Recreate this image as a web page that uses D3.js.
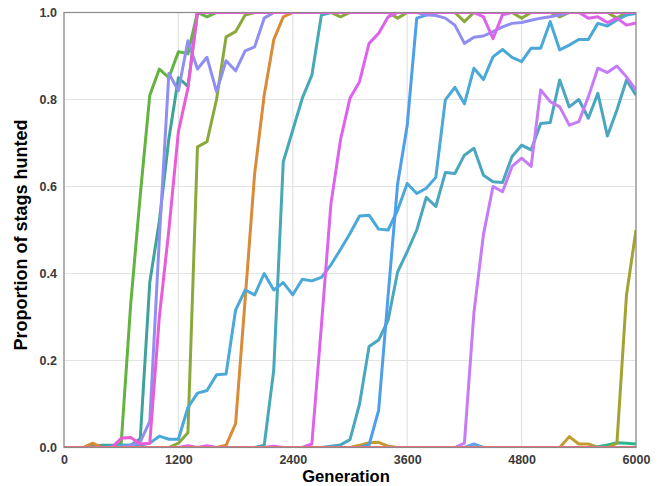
<!DOCTYPE html>
<html><head><meta charset="utf-8">
<script src="https://cdn.jsdelivr.net/npm/d3@7"></script>
<style>body{margin:0;background:#fff}</style>
</head><body><svg id="c" width="660" height="486"></svg>
<script>
const generations = d3.range(0, 6001, 100);
const xTicks = [0, 1200, 2400, 3600, 4800, 6000];
const yTicks = [0, 0.2, 0.4, 0.6, 0.8, 1.0];

const green = [0,0,0,0,0,0,0.01,0.33,0.58,0.81,
  0.87,0.85,0.91,0.905,1,0.99,1,1,1,1,
  1,1,1,1,1,1,1,1,1,1, 1,1,1,1,1,1,1,1,1,1,
  1,1,1,1,1,1,1,1,1,1, 1,1,1,1,1,1,1,1,1,1, 1];
const tealGreen = [0,0,0,0.003,0.005,0.005,0.005,0.005,0.02,0.38,
  0.52,0.71,0.85,0.83,1,1,1,1,1,1,
  1,1,1,1,1,1,1,1,1,1, 1,1,1,1,1,1,1,1,1,1,
  1,1,1,1,1,1,1,1,1,1, 1,1,1,1,1,1,1,1,1,1, 1];
const lavender = [0,0,0,0,0,0,0,0.005,0.013,0.06,
  0.48,0.86,0.82,0.935,0.87,0.897,0.818,0.889,0.866,0.912,
  0.921,0.987,1,1,1,1,1,1,1,1,
  1,1,1,1,1,1,1,1,0.995,0.993,
  0.987,0.971,0.929,0.943,0.946,0.956,0.967,0.975,0.977,0.982,
  0.987,0.99,0.995,1,1,1,1,1,1,1, 1];
const magenta = [0,0,0,0,0,0,0.021,0.023,0.008,0.01,
  0.3,0.5,0.726,0.826,1,1,1,1,1,1,
  1,1,1,1,1,1,1,1,1,1, 1,1,1,1,1,1,1,1,1,1,
  1,1,1,1,1,1,1,1,1,1, 1,1,1,1,1,1,1,1,1,1, 1];
const oliveGreen = [0,0,0,0,0,0,0,0,0,0,
  0,0,0.01,0.034,0.691,0.703,0.8,0.944,0.956,0.994,
  1,1,1,1,1,1,1,1,1,0.99,
  1,1,1,1,1,0.987,1,1,1,1,
  1,1,0.979,1,1,1,1,1,0.987,1,
  1,1,0.99,1,1,1,1,1,0.987,1, 1];
const orange = [0,0,0,0.01,0,0,0,0,0,0,
  0,0,0,0,0,0,0,0.005,0.055,0.34,
  0.63,0.81,0.937,0.99,1,1,1,1,1,1,
  1,1,1,1,1,1,1,1,1,1, 1,1,1,1,1,1,1,1,1,1, 1,1,1,1,1,1,1,1,1,1, 1];
const cyan = [0,0,0,0,0,0.003,0.005,0.005,0.005,0.01,
  0.026,0.019,0.019,0.092,0.125,0.131,0.167,0.169,0.316,0.362,
  0.351,0.4,0.362,0.379,0.351,0.387,0.383,0.391,0.42,0.455,
  0.492,0.532,0.534,0.502,0.5,0.546,0.607,0.584,0.596,0.621,
  0.799,0.828,0.79,0.872,0.846,0.898,0.915,0.897,0.887,0.918,
  0.918,0.979,0.914,0.925,0.938,0.938,0.975,0.969,0.983,0.994, 0.998];
const teal = [0,0,0,0,0,0,0,0,0,0, 0,0,0,0,0,0,0,0,0,0,
  0,0.005,0.178,0.657,0.73,0.803,0.856,0.994,1,1,
  1,1,1,1,1,1,1,1,1,1, 1,1,1,1,1,1,1,1,1,1, 1,1,1,1,1,1,1,1,1,1, 1];
const violet = [0,0,0,0,0,0,0,0,0,0,
  0,0,0,0.004,0,0.004,0,0,0,0,
  0,0,0.003,0,0,0,0.008,0.28,0.56,0.707,
  0.803,0.841,0.929,0.952,0.99,1,1,1,1,1,
  1,1,1,1,0.99,0.94,0.995,1,1,1,
  1,1,1,1,1,0.987,0.99,0.977,0.987,0.971, 0.976];
const blue = [0,0,0,0,0,0,0,0,0,0, 0,0,0,0,0,0,0,0,0,0, 0,0,0,0,0,0,0,0,0,0,
  0,0,0.006,0.085,0.35,0.607,0.74,0.987,0.994,1,
  1,1,1,1,1,1,1,1,1,1, 1,1,1,1,1,1,1,1,1,1, 1];
const tealLate = [0,0,0,0,0,0,0,0,0,0, 0,0,0,0,0,0,0,0,0,0,
  0,0,0,0,0,0,0,0,0.003,0.006,
  0.018,0.1,0.232,0.247,0.293,0.404,0.45,0.5,0.575,0.554,
  0.632,0.63,0.672,0.688,0.626,0.611,0.609,0.669,0.695,0.684,
  0.745,0.747,0.845,0.783,0.8,0.757,0.814,0.716,0.776,0.845, 0.81];
const purple = [0,0,0,0,0,0,0,0,0,0, 0,0,0,0,0,0,0,0,0,0,
  0,0,0,0,0,0,0,0,0,0, 0,0,0,0,0,0,0,0,0,0,
  0,0,0.01,0.31,0.49,0.6,0.588,0.646,0.665,0.646,
  0.822,0.795,0.783,0.741,0.749,0.806,0.872,0.862,0.877,0.852, 0.822];
const olive = [0,0,0,0,0,0,0,0,0,0, 0,0,0,0,0,0,0,0,0,0,
  0,0,0,0,0,0,0,0,0,0, 0,0,0,0,0,0,0,0,0,0,
  0,0,0,0,0,0,0,0,0,0,
  0,0,0,0,0,0,0,0,0.01,0.35, 0.5];
const gold = [0,0,0,0,0,0,0,0,0,0, 0,0,0,0,0,0,0,0,0,0,
  0,0,0,0,0,0,0,0,0,0,
  0,0.005,0.011,0.012,0.003,0,0,0,0,0,
  0,0,0,0,0,0,0,0,0,0,
  0,0,0,0.025,0.008,0.008,0,0,0,0, 0];
const seaGreen = [0,0,0,0,0,0,0,0,0,0, 0,0,0,0,0,0,0,0,0,0,
  0,0,0,0,0,0,0,0,0,0, 0,0,0,0,0,0,0,0,0,0,
  0,0,0,0,0,0,0,0,0,0,
  0,0,0,0,0,0,0.002,0.006,0.011,0.01, 0.008];
const skyBlue = [0,0,0,0,0,0,0,0,0,0, 0,0,0,0,0,0,0,0,0,0,
  0,0,0,0,0,0,0,0,0,0, 0,0,0,0,0,0,0,0,0,0,
  0,0,0,0.008,0,0,0,0,0,0,
  0,0,0,0,0,0,0,0,0,0, 0];
const pinkRed = [0,0,0,0,0,0,0,0,0,0, 0,0,0,0,0,0,0,0,0,0,
  0,0,0,0,0,0,0,0,0,0, 0,0,0,0,0,0,0,0,0,0,
  0,0,0,0,0,0,0,0,0,0, 0,0,0,0,0,0,0,0,0,0, 0];

const seriesNames = ["gold","seaGreen","skyBlue","olive","green","tealGreen","oliveGreen","orange",
  "teal","tealLate","cyan","blue","lavender","purple","violet","magenta","pinkRed"];
const seriesValues = [gold,seaGreen,skyBlue,olive,green,tealGreen,oliveGreen,orange,
  teal,tealLate,cyan,blue,lavender,purple,violet,magenta,pinkRed];
const seriesColors = ["#c39b2e","#2fb48c","#5aa6f0","#a3a334","#62b33f","#3fa39b","#8aa93c","#d98b38",
  "#47a9b8","#4aa7bf","#4aa9d8","#4e9fe9","#8f8ff2","#c67cf6","#dd63ee","#ea5bd8","#ee6f7c"];

const svg = d3.select("#c");
const L = 64, R = 636, T = 12.5, B = 447.5;
const x = d3.scaleLinear().domain([0, 6000]).range([L, R]);
const y = d3.scaleLinear().domain([0, 1]).range([B, T]);

svg.append("rect").attr("x",0).attr("y",0).attr("width",660).attr("height",486).attr("fill","#fff");

// grid
svg.append("g").selectAll("line").data(xTicks).join("line")
  .attr("x1", d => x(d)).attr("x2", d => x(d)).attr("y1", T).attr("y2", B)
  .attr("stroke", "#e3e3e3").attr("stroke-width", 1.2);
svg.append("g").selectAll("line").data(yTicks).join("line")
  .attr("y1", d => y(d)).attr("y2", d => y(d)).attr("x1", L).attr("x2", R)
  .attr("stroke", "#e3e3e3").attr("stroke-width", 1.2);

svg.append("clipPath").attr("id","clip").append("rect")
  .attr("x", L).attr("y", T).attr("width", R - L).attr("height", B - T);

const line = d3.line().x((d, i) => x(generations[i])).y(d => y(d));
const g = svg.append("g").attr("clip-path", "url(#clip)");
seriesValues.forEach((vals, k) => {
  g.append("path").datum(vals).attr("d", line)
    .attr("fill", "none").attr("stroke", seriesColors[k]).attr("stroke-width", 3)
    .attr("stroke-linejoin", "round").attr("class", seriesNames[k]);
});

// border
svg.append("rect").attr("x", L).attr("y", T).attr("width", R - L).attr("height", B - T)
  .attr("fill", "none").attr("stroke", "#8a8a8a").attr("stroke-width", 1.2);

const font = "'Liberation Sans', Arial, sans-serif";
const xAxis = svg.append("g").attr("transform", `translate(0,${B})`)
  .call(d3.axisBottom(x).tickValues(xTicks).tickSize(0).tickPadding(7.5).tickFormat(d3.format("d")));
const yAxis = svg.append("g").attr("transform", `translate(${L},0)`)
  .call(d3.axisLeft(y).tickValues(yTicks).tickSize(0).tickPadding(7).tickFormat(d3.format(".1f")));
[xAxis, yAxis].forEach(a => {
  a.select(".domain").remove();
  a.selectAll("text").attr("font-family", font).attr("font-size", 12.5)
    .attr("font-weight", "bold").attr("fill", "#3a3a3a");
});

svg.append("text").attr("x", 346).attr("y", 481.5).attr("text-anchor", "middle")
  .attr("font-family", font).attr("font-size", 16.6).attr("font-weight", "bold").attr("fill", "#000")
  .text("Generation");
svg.append("text").attr("transform", "translate(27,235) rotate(-90)").attr("text-anchor", "middle")
  .attr("font-family", font).attr("font-size", 18).attr("font-weight", "bold").attr("fill", "#000")
  .text("Proportion of stags hunted");
</script></body></html>
